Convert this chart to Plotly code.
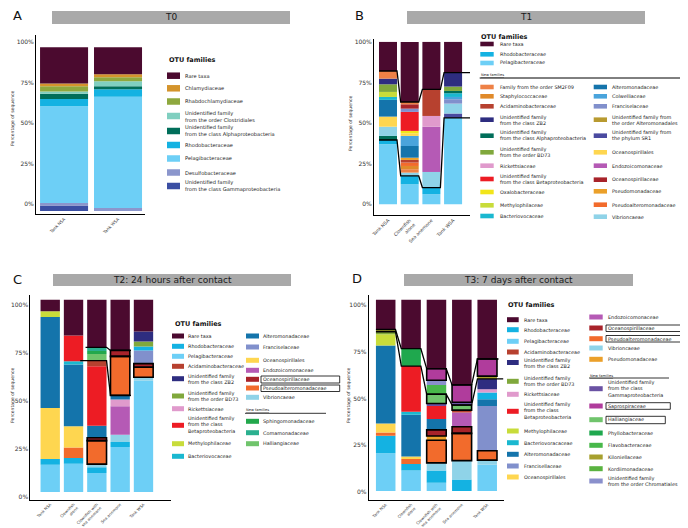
import numpy as np
import plotly.graph_objects as go

W, H = 688, 528

# ---------------- colours per family ----------------
COLORS = {
    "rare": "#4b0a2f", "pelagi": "#6dcff6", "rhodo": "#14b2e2",
    "chlamy": "#d4942c", "rhabdo": "#8ea83e", "clostri": "#80cfc0",
    "alpha": "#006e5a", "desulfo": "#8b96cc", "gamma_a": "#3b4fa3",
    "sm2f09": "#ee8146", "staphylo": "#e08a2a", "acidamino": "#b7412f",
    "zb2": "#2e2d80", "bd73": "#80a83c", "ricketts": "#e09acc",
    "beta": "#ed1c24", "oxalo": "#f2e51a", "methylo": "#c8dc3a",
    "bacterio": "#1ab8d0", "altero": "#1474ab", "colwell": "#4aa4dc",
    "franc": "#8190cc", "alteromonadales": "#b89a30", "sr1": "#4a4aa0",
    "oceanospirillales": "#fed650", "endozo": "#b55ab5",
    "oceanospirillaceae": "#a8232a", "pseudomonad": "#eba02a",
    "pseudoalt": "#f26b2c", "vibrio": "#8fd3e8", "sphingo": "#23a84c",
    "comamon": "#2bb08f", "halli": "#70c46c", "gamma_d": "#6a52a3",
    "sapro": "#b03c9c", "phyllo": "#1fa84e", "flavo": "#48b84a",
    "kilon": "#a7a02e", "kordi": "#5ab340", "chromat": "#8a90cc",
}

# ---------------- DATA (segment values, bottom -> top, % of sequences) ----------------
A_CATS = ["Tank NSA", "Tank WSA"]
A_BASE = -4.3
A_TANK_NSA = [("gamma_a", 3.3), ("desulfo", 1.6), ("pelagi", 59.7), ("rhodo", 4.5), ("alpha", 3.3),
              ("clostri", 1.4), ("rhabdo", 3.1), ("chlamy", 1.7), ("rare", 22.4)]
A_TANK_WSA = [("desulfo", 1.8), ("pelagi", 68.7), ("rhodo", 4.6), ("alpha", 1.8), ("clostri", 3.1),
              ("rhabdo", 2.5), ("chlamy", 1.9), ("rare", 16.6)]
A_BOXED = [[], []]

B_CATS = ["Tank NSA", "Clownfish<br>alone", "Sea anemone", "Tank WSA"]
B_BASE = 0.0
B_TANK_NSA = [("pelagi", 37.0), ("rhodo", 2.6), ("alpha", 2.5), ("vibrio", 5.7), ("oceanospirillales", 6.2),
              ("altero", 10.3), ("bacterio", 1.8), ("methylo", 3.1), ("bd73", 4.7), ("zb2", 3.5),
              ("sm2f09", 4.7), ("rare", 17.9)]
B_CLOWN = [("pelagi", 12.3), ("rhodo", 5.2), ("vibrio", 2.0), ("sm2f09", 2.1), ("staphylo", 2.0),
           ("pseudoalt", 2.1), ("acidamino", 1.6), ("pseudomonad", 1.4), ("altero", 7.2), ("colwell", 6.2),
           ("oceanospirillales", 1.6), ("oxalo", 1.5), ("beta", 11.7), ("franc", 2.0),
           ("oceanospirillaceae", 2.7), ("sm2f09", 1.4), ("rare", 37.0)]
B_ANEMONE = [("pelagi", 6.2), ("rhodo", 4.1), ("vibrio", 9.6), ("endozo", 27.9), ("ricketts", 6.6),
             ("acidamino", 16.4), ("rare", 29.2)]
B_TANK_WSA = [("pelagi", 53.2), ("sr1", 2.7), ("vibrio", 6.1), ("franc", 2.7), ("colwell", 1.4),
              ("bacterio", 2.3), ("alpha", 1.4), ("bd73", 2.7), ("zb2", 8.6), ("rare", 18.9)]
B_BOXED = [[], [], [], []]
B_LINE_TOP = [None, None, None, None]   # number of segments under the line (None: all but rare taxa)
B_LINE_LOW = [2, 2, 2, 1]

C_CATS = ["Tank NSA", "Clownfish<br>alone", "Clownfish with<br>sea anemone", "Sea anemone", "Tank WSA"]
C_BASE = 2.8
C_TANK_NSA = [("pelagi", 14.2), ("rhodo", 2.9), ("oceanospirillales", 26.6), ("altero", 47.4),
              ("methylo", 3.0), ("rare", 6.0)]
C_CLOWN = [("pelagi", 14.7), ("rhodo", 3.0), ("pseudoalt", 5.5), ("oceanospirillales", 11.0),
           ("altero", 32.1), ("bacterio", 1.7), ("beta", 13.4), ("rare", 18.7)]
C_CLOWN_ANEM = [("pelagi", 9.8), ("rhodo", 3.1), ("vibrio", 1.6), ("pseudoalt", 12.2),
                ("oceanospirillaceae", 1.5), ("altero", 6.3), ("beta", 30.9), ("acidamino", 3.0),
                ("halli", 3.4), ("sphingo", 1.6), ("comamon", 1.9), ("rare", 24.8)]
C_ANEMONE = [("pelagi", 23.4), ("rhodo", 2.6), ("vibrio", 3.8), ("endozo", 14.8), ("ricketts", 3.5),
             ("altero", 2.2), ("pseudoalt", 20.3), ("oceanospirillaceae", 3.1), ("rare", 26.4)]
C_TANK_WSA = [("pelagi", 57.9), ("vibrio", 1.8), ("pseudoalt", 5.2), ("oceanospirillaceae", 1.9),
              ("franc", 6.9), ("rhodo", 2.1), ("bd73", 2.6), ("zb2", 5.2), ("rare", 16.5)]
C_BOXED = [[], [], ["pseudoalt", "oceanospirillaceae"], ["pseudoalt", "oceanospirillaceae"],
           ["pseudoalt", "oceanospirillaceae"]]
C_LINE_BARS = [2, 3]
C_LINE_TOP = [None, None]
C_LINE_LOW = [8, 6]

D_CATS = C_CATS
D_BASE = 0.4
D_TANK_NSA = [("pelagi", 20.3), ("rhodo", 9.4), ("pseudoalt", 1.7), ("oceanospirillales", 4.8),
              ("altero", 41.8), ("methylo", 6.1), ("bd73", 1.3), ("kilon", 1.2), ("rare", 16.0)]
D_CLOWN = [("pelagi", 11.0), ("rhodo", 3.5), ("pseudoalt", 2.7), ("oceanospirillales", 1.3),
           ("altero", 22.4), ("bacterio", 1.6), ("beta", 24.5), ("phyllo", 9.3), ("rare", 26.3)]
D_CLOWN_ANEM = [("pelagi", 4.4), ("rhodo", 6.6), ("vibrio", 4.1), ("pseudoalt", 12.1), ("pseudomonad", 2.3),
                ("oceanospirillaceae", 3.3), ("altero", 5.8), ("beta", 7.0), ("gamma_d", 1.3),
                ("halli", 5.0), ("flavo", 5.0), ("chromat", 2.5), ("sapro", 6.2), ("rare", 37.0)]
D_ANEMONE = [("rhodo", 6.2), ("vibrio", 10.1), ("pseudoalt", 14.6), ("oceanospirillaceae", 3.6),
             ("endozo", 7.6), ("acidamino", 1.3), ("halli", 2.7), ("gamma_d", 1.5), ("sapro", 9.3),
             ("rare", 45.7)]
D_TANK_WSA = [("pelagi", 14.1), ("vibrio", 2.5), ("pseudoalt", 5.0), ("franc", 24.0), ("altero", 3.6),
              ("rhodo", 3.6), ("ricketts", 1.8), ("zb2", 5.5), ("kilon", 1.5), ("sapro", 9.2), ("rare", 31.8)]
D_BOXED = [[], [], ["pseudoalt", "oceanospirillaceae", "halli", "sapro"],
           ["pseudoalt", "oceanospirillaceae", "halli", "sapro"], ["pseudoalt", "sapro"]]
D_LINE_TOP = [None, None, None, None, None]
D_LINE_LOW = [7, 7, 10, 7, 8]

# legend contents
A_LEGEND = [("rare", "Rare taxa"), ("chlamy", "Chlamydiaceae"), ("rhabdo", "Rhabdochlamydiaceae"),
            ("clostri", "Unidentified family<br>from the order Clostridiales"),
            ("alpha", "Unidentified family<br>from the class Alphaproteobacteria"),
            ("rhodo", "Rhodobacteraceae"), ("pelagi", "Pelagibacteraceae"), ("desulfo", "Desulfobacteraceae"),
            ("gamma_a", "Unidentified family<br>from the class Gammaproteobacteria")]
B_LEGEND_1 = [("rare", "Rare taxa"), ("rhodo", "Rhodobacteraceae"), ("pelagi", "Pelagibacteraceae"),
              ("sm2f09", "Family from the order SM2F09"), ("staphylo", "Staphylococcaceae"),
              ("acidamino", "Acidaminobacteraceae"), ("zb2", "Unidentified family<br>from the class ZB2"),
              ("alpha", "Unidentified family<br>from the class Alphaproteobacteria"),
              ("bd73", "Unidentified family<br>from the order BD73"), ("ricketts", "Rickettsiaceae"),
              ("beta", "Unidentified family<br>from the class Betaproteobacteria"),
              ("oxalo", "Oxalobacteraceae"), ("methylo", "Methylophilaceae"), ("bacterio", "Bacteriovocaceae")]
B_LEGEND_2 = [("altero", "Alteromonadaceae"), ("colwell", "Colwelliaceae"), ("franc", "Franciselaceae"),
              ("alteromonadales", "Unidentified family from<br>the order Alteromonadales"),
              ("sr1", "Unidentified family from<br>the phylum SR1"), ("oceanospirillales", "Oceanospirillales"),
              ("endozo", "Endozoicomonaceae"), ("oceanospirillaceae", "Oceanospirillaceae"),
              ("pseudomonad", "Pseudomonadaceae"), ("pseudoalt", "Pseudoalteromonadaceae"),
              ("vibrio", "Vibrioncaeae")]
C_LEGEND_1 = [("rare", "Rare taxa"), ("rhodo", "Rhodobacteraceae"), ("pelagi", "Pelagibacteraceae"),
              ("acidamino", "Acidaminobacteraceae"), ("zb2", "Unidentified family<br>from the class ZB2"),
              ("bd73", "Unidentified family<br>from the order BD73"), ("ricketts", "Rickettsiaceae"),
              ("beta", "Unidentified family<br>from the class<br>Betaproteobacteria"),
              ("methylo", "Methylophilaceae"), ("bacterio", "Bacteriovocaceae")]
C_LEGEND_2 = [("altero", "Alteromonadaceae"), ("franc", "Franciselaceae"),
              ("oceanospirillales", "Oceanospirillales"), ("endozo", "Endozoicomonaceae"),
              ("oceanospirillaceae", "Oceanospirillaceae"), ("pseudoalt", "Pseudoalteromonadaceae"),
              ("vibrio", "Vibrioncaeae"), ("sphingo", "Sphingomonadaceae"), ("comamon", "Comamonadaceae"),
              ("halli", "Halliangiaceae")]
D_LEGEND_1 = [("rare", "Rare taxa"), ("rhodo", "Rhodobacteraceae"), ("pelagi", "Pelagibacteraceae"),
              ("acidamino", "Acidaminobacteraceae"), ("zb2", "Unidentified family<br>from the class ZB2"),
              ("bd73", "Unidentified family<br>from the order BD73"), ("ricketts", "Rickettsiaceae"),
              ("beta", "Unidentified family<br>from the class<br>Betaproteobacteria"),
              ("methylo", "Methylophilaceae"), ("bacterio", "Bacteriovoracaceae"),
              ("altero", "Alteromonadaceae"), ("franc", "Francisellaceae"),
              ("oceanospirillales", "Oceanospirillales")]
D_LEGEND_2 = [("endozo", "Endozoicomonaceae"), ("oceanospirillaceae", "Oceanospirillaceae"),
              ("pseudoalt", "Pseudoalteromonadaceae"), ("vibrio", "Vibrioncaeae"),
              ("pseudomonad", "Pseudomonadaceae"),
              ("gamma_d", "Unidentified family<br>from the class<br>Gammaproteobacteria"),
              ("sapro", "Saprospiraceae"), ("halli", "Halliangiaceae"), ("phyllo", "Phyllobacteraceae"),
              ("flavo", "Flavobacteraceae"), ("kilon", "Kiloniellaceae"), ("kordi", "Kordiimonadaceae"),
              ("chromat", "Unidentified family<br>from the order Chromatiales")]
Y_TICKS = [0, 25, 50, 75, 100]

# ---------------- helpers ----------------
FONT = "DejaVu Sans"
fig = go.Figure()


def X(px):
    return px / W


def Y(py):
    return 1 - py / H


def panel(n, cats, bars, base, boxed, lines, xdom, ydom, xr, yr, bw, xfont):
    xa = "x" if n == 1 else f"x{n}"
    ya = "y" if n == 1 else f"y{n}"
    xs, ys, bs, cs = [], [], [], []
    bx, by, bb = [], [], []
    tops = []
    for i, bar in enumerate(bars):
        vals = np.array([v for _, v in bar], dtype=float)
        cum = base + np.cumsum(vals)
        starts = np.concatenate([[base], cum[:-1]])
        tops.append(cum)
        for (k, v), s in zip(bar, starts):
            xs.append(i); ys.append(v); bs.append(s); cs.append(COLORS[k])
            if k in boxed[i]:
                bx.append(i); by.append(v); bb.append(s)
    fig.add_trace(go.Bar(x=xs, y=ys, base=bs, width=bw, xaxis=xa, yaxis=ya,
                         marker=dict(color=cs, line=dict(width=0)), showlegend=False, hoverinfo="skip"))
    if bx:
        fig.add_trace(go.Bar(x=bx, y=by, base=bb, width=bw, xaxis=xa, yaxis=ya,
                             marker=dict(color="rgba(0,0,0,0)", line=dict(color="black", width=1.6)),
                             showlegend=False, hoverinfo="skip"))
    for idxs, counts, el, er in lines:
        lx, ly = [], []
        for j, (i, c) in enumerate(zip(idxs, counts)):
            cnt = len(bars[i]) - 1 if c is None else c
            yv = tops[i][cnt - 1]
            lx += [i - bw / 2 - (el if j == 0 else 0), i + bw / 2 + (er if j == len(idxs) - 1 else 0)]
            ly += [yv, yv]
        fig.add_trace(go.Scatter(x=lx, y=ly, mode="lines", line=dict(color="black", width=1.3),
                                 xaxis=xa, yaxis=ya, showlegend=False, hoverinfo="skip"))
    sfx = "" if n == 1 else str(n)
    fig.update_layout(**{
        f"xaxis{sfx}": dict(domain=[X(xdom[0]), X(xdom[1])], range=list(xr), anchor=ya,
                            showline=True, linecolor="black", linewidth=1, showgrid=False, zeroline=False,
                            tickmode="array", tickvals=list(range(len(cats))), ticktext=cats,
                            tickangle=-45, ticks="", tickfont=dict(size=xfont, color="#333", family=FONT),
                            automargin=False, fixedrange=True),
        f"yaxis{sfx}": dict(domain=[Y(ydom[1]), Y(ydom[0])], range=list(yr), anchor=xa,
                            showline=True, linecolor="black", linewidth=1, showgrid=False, zeroline=False,
                            tickmode="array", tickvals=Y_TICKS, ticktext=[f"{t}%" for t in Y_TICKS],
                            ticks="", tickfont=dict(size=6, color="#333", family=FONT),
                            automargin=False, fixedrange=True),
    })


def text(px, py, s, size, anchor="left", color="#222", angle=0, bold=False):
    fig.add_annotation(x=X(px), y=Y(py), xref="paper", yref="paper", text=("<b>%s</b>" % s) if bold else s,
                       showarrow=False, xanchor=anchor, yanchor="middle", textangle=angle,
                       font=dict(size=size, color=color, family=FONT), borderpad=0, align="left")


def rect(x0, y0, x1, y1, fill=None, line=None, lw=0.8):
    fig.add_shape(type="rect", xref="paper", yref="paper", x0=X(x0), x1=X(x1), y0=Y(y1), y1=Y(y0),
                  fillcolor=fill if fill else "rgba(0,0,0,0)",
                  line=dict(width=lw if line else 0, color=line if line else "rgba(0,0,0,0)"))


def hline(x0, x1, y, lw=0.8):
    fig.add_shape(type="line", xref="paper", yref="paper", x0=X(x0), x1=X(x1), y0=Y(y), y1=Y(y),
                  line=dict(color="black", width=lw))


def legend_col(entries, ys, sx0, sx1, tx, sh, size):
    for (k, lab), yy in zip(entries, ys):
        rect(sx0, yy - sh / 2, sx1, yy + sh / 2, fill=COLORS[k])
        text(tx, yy, lab, size)


def title_bar(x0, x1, y0, y1, s):
    rect(x0, y0, x1, y1, fill="#a9a9a9")
    text((x0 + x1) / 2, (y0 + y1) / 2, s, 9, anchor="center", color="#1a1a1a")


# ---------------- panels ----------------
panel(1, A_CATS, [A_TANK_NSA, A_TANK_WSA], A_BASE, A_BOXED, [],
      (28, 137), (27, 206), (-0.52, 1.5), (-6.17, 104.3), 0.89, 4.2)
panel(2, B_CATS, [B_TANK_NSA, B_CLOWN, B_ANEMONE, B_TANK_WSA], B_BASE, B_BOXED,
      [([0, 1, 2, 3], B_LINE_TOP, 0, 0.46), ([0, 1, 2, 3], B_LINE_LOW, 0, 0.4)],
      (366, 462), (31, 207), (-0.645, 3.78), (-6.6, 101.8), 0.83, 4.6)
panel(3, C_CATS, [C_TANK_NSA, C_CLOWN, C_CLOWN_ANEM, C_ANEMONE, C_TANK_WSA], C_BASE, C_BOXED,
      [(C_LINE_BARS, C_LINE_TOP, 0.07, 0.05), (C_LINE_BARS, C_LINE_LOW, 0.3, 0.05)],
      (22.3, 163), (287.3, 491.7), (-0.854, 5.18), (-1.25, 105.2), 0.83, 3.9)
panel(4, D_CATS, [D_TANK_NSA, D_CLOWN, D_CLOWN_ANEM, D_ANEMONE, D_TANK_WSA], D_BASE, D_BOXED,
      [([0, 1, 2, 3, 4], D_LINE_TOP, 0, 0.06), ([0, 1, 2, 3, 4], D_LINE_LOW, 0, 0.25)],
      (360.7, 495.7), (287, 492), (-0.67, 4.65), (-4.4, 105.5), 0.77, 3.9)

# ---------------- titles / letters / axis titles ----------------
title_bar(44, 282, 3, 16, "T0")
title_bar(399, 637, 3, 16, "T1")
title_bar(45, 283, 266, 278, "T2: 24 hours after contact")
title_bar(396, 625, 266, 278, "T3: 7 days after contact")
for lx, ly, s in [(9, 7, "A"), (351, 7, "B"), (9, 271, "C"), (349, 270, "D")]:
    text(lx, ly, s, 13, anchor="center", color="#111")
for ax, ay in [(4, 110), (343, 115), (4, 387), (340, 387)]:
    text(ax, ay, "Percentage of sequence", 4.6, anchor="center", color="#333", angle=-90)

# ---------------- legends ----------------
# A
text(160, 52, "OTU families", 6.5, bold=True, color="#111")
legend_col(A_LEGEND, [67.7, 80.3, 93.5, 108, 123, 137, 150.5, 164.5, 178], 159, 172, 176, 6.5, 5.1)

# B
text(471.7, 28.7, "OTU families", 6.5, bold=True, color="#111")
legend_col(B_LEGEND_1[:3], [36, 46.3, 55], 472.3, 485.7, 490.7, 4.6, 4.9)
text(471.7, 67.2, "<u>New families</u>", 3.6)
hline(471.7, 679, 70, 1)
legend_col(B_LEGEND_1[3:], [79, 88.3, 98.3, 111.7, 127.7, 144.3, 157.7, 171, 184, 197.3, 208],
           472.3, 485.7, 490.7, 4.6, 4.9)
legend_col(B_LEGEND_2, [79, 88.3, 98.3, 111.7, 127.7, 144.3, 157.7, 171.7, 183.3, 196.7, 208.7],
           585.7, 599, 603, 4.6, 4.9)

# C
text(166, 316.3, "OTU families", 6.5, bold=True, color="#111")
legend_col(C_LEGEND_1, [328, 338.3, 348.3, 358.3, 370.7, 388, 400.7, 417.3, 435.7, 448.3],
           164, 176, 179, 5, 4.9)
legend_col(C_LEGEND_2[:7], [328, 339, 352.3, 362.3, 371.3, 380, 389.3], 238, 251, 254, 5, 4.9)
text(237, 402.3, "<u>New families</u>", 3.6)
hline(237, 318, 405.3, 0.8)
legend_col(C_LEGEND_2[7:], [413.3, 424.7, 435.7], 238, 251, 254, 5, 4.9)
rect(253, 368, 331.7, 375, line="black")
rect(253, 377, 331.7, 383.5, line="black")

# D
text(499, 297.3, "OTU families", 6.5, bold=True, color="#111")
legend_col(D_LEGEND_1, [311.7, 321.7, 333.3, 344, 354.5, 373.3, 386.3, 403.3, 423, 434.7, 446.3, 458, 469],
           499, 510.7, 514.7, 5, 4.9)
legend_col(D_LEGEND_2[:5], [309, 320, 330.7, 340, 351.3], 581.3, 594.7, 599, 5, 4.9)
text(581, 367.5, "<u>New families</u>", 3.6)
hline(581, 661, 370, 0.8)
legend_col(D_LEGEND_2[5:], [380.7, 398, 411.7, 425, 437.3, 449, 460.7, 473], 581.3, 594.7, 599, 5, 4.9)
rect(598, 317, 687, 323.5, line="black")
rect(598, 327.5, 687, 334, line="black")
rect(598, 394.7, 662.3, 401.3, line="black")
rect(598, 408.3, 657.3, 415.7, line="black")

fig.update_layout(width=W, height=H, margin=dict(l=0, r=0, t=0, b=0), barmode="overlay",
                  paper_bgcolor="white", plot_bgcolor="white", showlegend=False,
                  font=dict(family=FONT, color="#222"))
fig.write_html("out.html")
